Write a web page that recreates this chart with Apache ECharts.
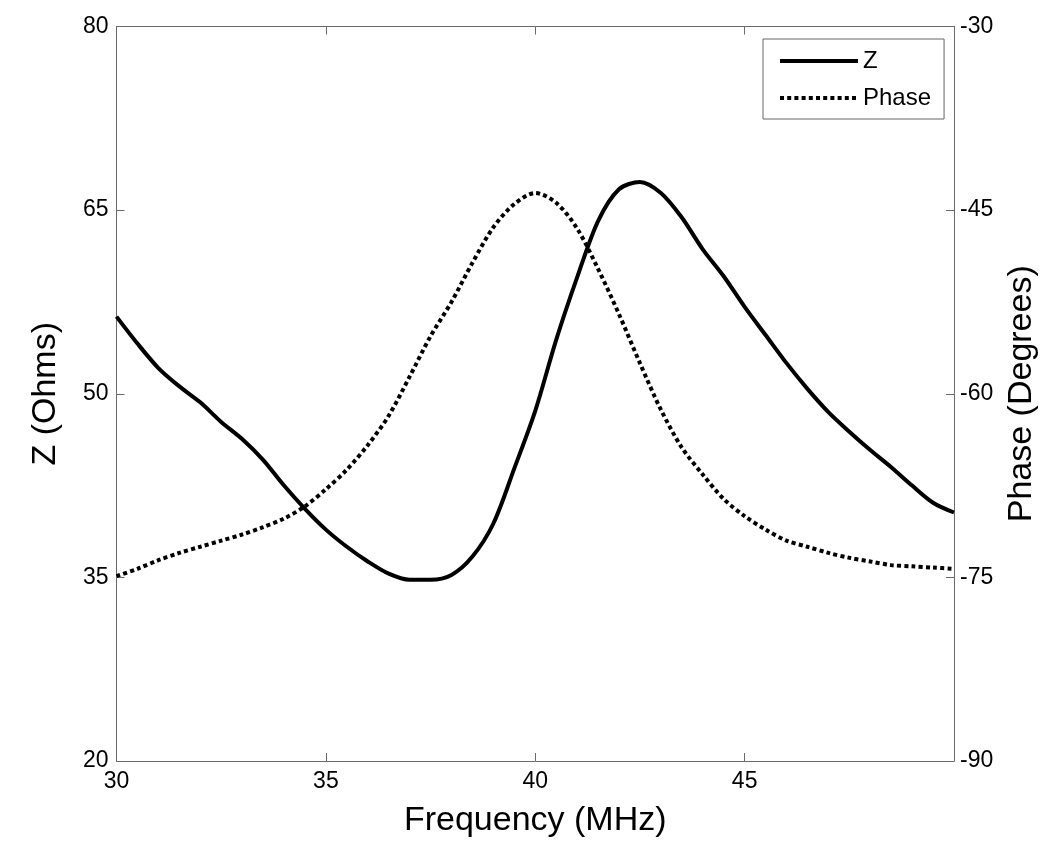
<!DOCTYPE html>
<html>
<head>
<meta charset="utf-8">
<script src="https://cdn.jsdelivr.net/npm/echarts@6/dist/echarts.min.js"></script>
<style>
html,body{margin:0;padding:0;background:#fff;}
#chart{width:1050px;height:860px;}
</style>
</head>
<body>
<div id="chart"></div>
<script>
const freq = [30,30.5,31,31.5,32,32.5,33,33.5,34,34.5,35,35.5,36,36.5,37,37.5,38,38.5,39,39.5,40,40.5,41,41.5,42,42.5,43,43.5,44,44.5,45,45.5,46,46.5,47,47.5,48,48.5,49,49.5,50];
const zOhms = [56.3,54.1,52.1,50.6,49.3,47.7,46.3,44.6,42.5,40.6,38.9,37.5,36.3,35.3,34.8,34.8,35.2,36.7,39.4,43.9,48.6,54.4,59.5,64.1,66.7,67.3,66.4,64.4,61.8,59.6,57.1,54.8,52.5,50.4,48.5,46.9,45.4,44.0,42.5,41.1,40.3];
const phaseDeg = [-74.9,-74.3,-73.6,-73.0,-72.5,-72.0,-71.5,-70.9,-70.2,-69.2,-67.8,-66.2,-64.2,-61.8,-58.6,-55.3,-52.5,-49.3,-46.4,-44.5,-43.6,-44.4,-46.5,-49.8,-53.5,-57.5,-61.3,-64.4,-66.6,-68.6,-70.0,-71.1,-72.0,-72.5,-73.0,-73.4,-73.7,-74.0,-74.1,-74.2,-74.3];
const xTicks = {min:30, max:50, interval:5};
const zTicks = {min:20, max:80, interval:15};
const phTicks = {min:-90, max:-30, interval:15};

const FONT = 'Liberation Sans, Arial, sans-serif';
const AX = '#6a6a6a';

const chart = echarts.init(document.getElementById('chart'), null, {renderer:'canvas'});
const axisCommon = {
  axisLine:{show:true, onZero:false, lineStyle:{color:AX, width:1}},
  axisTick:{show:true, inside:true, length:8, lineStyle:{color:AX, width:1}},
  splitLine:{show:false},
  axisLabel:{color:'#000', fontFamily:FONT, fontSize:23}
};
const titleStyle = {color:'#000', fontFamily:FONT, fontSize:34};
chart.setOption({
  animation:false,
  backgroundColor:'#fff',
  grid:{left:116.5, right:96, top:26.5, bottom:99, containLabel:false},
  legend:{
    left:763, top:39, orient:'vertical',
    backgroundColor:'#fff', borderColor:'#666', borderWidth:1,
    padding:[9, 13, 8, 15], itemGap:11, itemWidth:78, itemHeight:18,
    itemStyle:{opacity:0},
    lineStyle:{width:4},
    textStyle:{color:'#000', fontFamily:FONT, fontSize:24, lineHeight:26},
    data:['Z','Phase']
  },
  xAxis:[
    Object.assign({}, axisCommon, {
      type:'value', position:'bottom', min:xTicks.min, max:xTicks.max, interval:xTicks.interval,
      name:'Frequency (MHz)', nameLocation:'middle', nameGap:43,
      nameTextStyle:titleStyle,
      axisLabel:{color:'#000', fontFamily:FONT, fontSize:23, margin:9, showMaxLabel:false}
    }),
    Object.assign({}, axisCommon, {
      type:'value', position:'top', min:xTicks.min, max:xTicks.max, interval:xTicks.interval,
      axisLabel:{show:false}
    })
  ],
  yAxis:[
    Object.assign({}, axisCommon, {
      type:'value', position:'left', min:zTicks.min, max:zTicks.max, interval:zTicks.interval,
      name:'Z (Ohms)', nameLocation:'middle', nameGap:54,
      nameTextStyle:titleStyle,
      axisLabel:{color:'#000', fontFamily:FONT, fontSize:23, margin:8}
    }),
    Object.assign({}, axisCommon, {
      type:'value', position:'right', min:phTicks.min, max:phTicks.max, interval:phTicks.interval,
      name:'Phase (Degrees)', nameLocation:'middle', nameGap:51,
      nameTextStyle:titleStyle,
      axisLabel:{color:'#000', fontFamily:FONT, fontSize:23, margin:6}
    })
  ],
  series:[
    {
      name:'Z', type:'line', xAxisIndex:0, yAxisIndex:0, smooth:0.3, symbol:'none',
      lineStyle:{color:'#000', width:4, type:'solid'},
      itemStyle:{color:'#000'},
      data: freq.map((f,i)=>[f, zOhms[i]])
    },
    {
      name:'Phase', type:'line', xAxisIndex:0, yAxisIndex:1, smooth:0.3, symbol:'none',
      lineStyle:{color:'#000', width:4, type:[4,3.2]},
      itemStyle:{color:'#000'},
      data: freq.map((f,i)=>[f, phaseDeg[i]])
    }
  ]
});
</script>
</body>
</html>
